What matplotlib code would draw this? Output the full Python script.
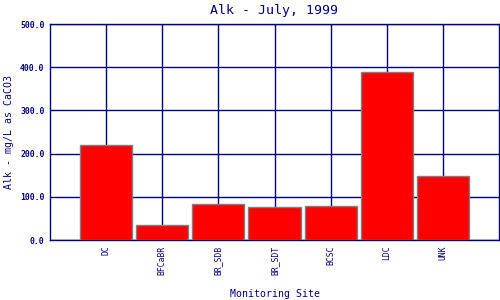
import matplotlib
matplotlib.use('Agg')
import matplotlib.pyplot as plt
import numpy as np

# Alkalinity by monitoring site, July 1999
sites = ['DC', 'BFCaBR', 'BR_SDB', 'BR_SDT', 'BCSC', 'LDC', 'UNK']
alk = [220, 35, 83, 76, 78, 388, 147]
yticks = [0, 100, 200, 300, 400, 500]

navy = '#000080'
plt.rcParams['font.family'] = 'DejaVu Sans Mono'

fig = plt.figure(figsize=(5, 3), dpi=100)
ax = fig.add_axes([0.1, 0.2, 0.898, 0.72])

x = np.arange(1, len(sites) + 1)
ax.bar(x, alk, width=0.93, color='#ff0000', edgecolor='#808080', linewidth=1, zorder=3)

ax.set_xlim(0, len(sites) + 1)
ax.set_ylim(0, 500)
ax.set_xticks(x)
ax.set_xticklabels(sites, rotation=90, fontsize=5.8, color=navy)
ax.set_yticks(yticks)
ax.set_yticklabels([f'{v:.1f}' for v in yticks], fontsize=5.9, color=navy, fontweight='bold')
ax.tick_params(length=0, pad=4)

ax.grid(True, color=navy, linewidth=1, zorder=0)
for s in ax.spines.values():
    s.set_color(navy)
    s.set_linewidth(1)

ax.set_title('Alk - July, 1999', color=navy, fontsize=9.5, pad=7)
ax.set_xlabel('Monitoring Site', color=navy, fontsize=7.1)
ax.set_ylabel('Alk - mg/L as CaCO3', color=navy, fontsize=7.1)
ax.xaxis.set_label_coords(0.5, -0.225)
ax.yaxis.set_label_coords(-0.08, 0.5)

fig.savefig('out.png', dpi=100)
